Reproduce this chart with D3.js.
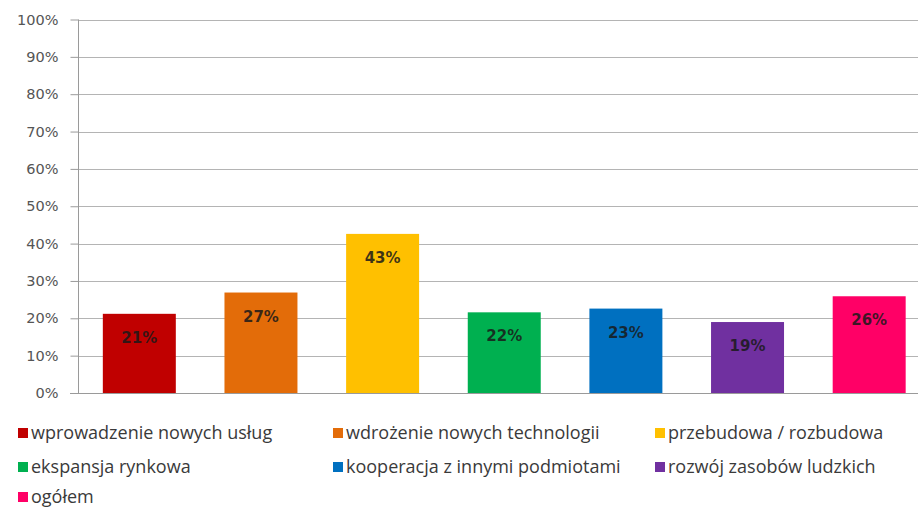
<!DOCTYPE html>
<html><head><meta charset="utf-8">
<script src="https://cdn.jsdelivr.net/npm/d3@7"></script>
<style>body{margin:0;background:#fff}svg{display:block}</style>
</head><body>
<svg id="c" width="918" height="508"></svg>
<script>
const categories = ["wprowadzenie nowych usług","wdrożenie nowych technologii","przebudowa / rozbudowa","ekspansja rynkowa","kooperacja z innymi podmiotami","rozwój zasobów ludzkich","ogółem"];
const values = [21.2, 26.9, 42.6, 21.6, 22.6, 19.0, 25.9];
const colors = ["#C00000","#E36C09","#FFC000","#00B050","#0070C0","#7030A0","#FF0066"];
const yTicks = [0,10,20,30,40,50,60,70,80,90,100];

const svg = d3.select("#c");
const x = d3.scaleBand().domain(categories).range([78.5, 930]).paddingInner(0.4).paddingOuter(0.2);
const y = d3.scaleLinear().domain([0,100]).range([393, 19.5]);

// gridlines
svg.append("g").selectAll("line").data(yTicks.filter(d=>d>0)).join("line")
  .attr("x1", 78).attr("x2", 918).attr("y1", d=>Math.round(y(d))+0.5).attr("y2", d=>Math.round(y(d))+0.5)
  .attr("stroke", "#b4b4b4").attr("stroke-width", 1);

const yAxis = d3.axisLeft(y).tickValues(yTicks).tickFormat(d=>d+"%").tickSize(8).tickPadding(12);
const ga = svg.append("g").attr("transform","translate(78.5,0)").call(yAxis);
ga.select(".domain").attr("stroke","#9a9a9a").attr("d","M0,"+y(100)+"V"+y(0));
ga.selectAll(".tick line").attr("stroke","#9a9a9a");
ga.selectAll(".tick text").attr("fill","#555").style("font-family","DejaVu Sans").style("font-size","14.5px");

// baseline
svg.append("line").attr("x1",70).attr("x2",918).attr("y1",y(0)+0.5).attr("y2",y(0)+0.5).attr("stroke","#9a9a9a");

// bars
svg.append("g").selectAll("rect").data(values).join("rect")
  .attr("x",(d,i)=>x(categories[i])).attr("width",x.bandwidth())
  .attr("y",d=>y(d)).attr("height",d=>y(0)-y(d))
  .attr("fill",(d,i)=>colors[i]);

svg.append("g").selectAll("text").data(values).join("text")
  .attr("x",(d,i)=>x(categories[i])+x.bandwidth()/2)
  .attr("y",d=>y(d)+29)
  .attr("text-anchor","middle")
  .attr("fill","#1a1a1a").attr("fill-opacity",0.85)
  .style("font-family","DejaVu Sans").style("font-weight","bold").style("font-size","15px")
  .text(d=>Math.round(d)+"%");

// legend
const legPos = [[18,433],[333,433],[655,433],[18,467],[333,467],[655,467],[18,497]];
const lg = svg.append("g").selectAll("g").data(categories).join("g")
  .attr("transform",(d,i)=>`translate(${legPos[i][0]},${legPos[i][1]})`);
lg.append("rect").attr("x",0).attr("y",-5).attr("width",10).attr("height",10).attr("fill",(d,i)=>colors[i]);
lg.append("text").attr("x",13).attr("y",0).attr("dy","0.35em").attr("fill","#3a3a3a")
  .style("font-family","Open Sans").style("font-size","18px").text(d=>d);
</script>
</body></html>
